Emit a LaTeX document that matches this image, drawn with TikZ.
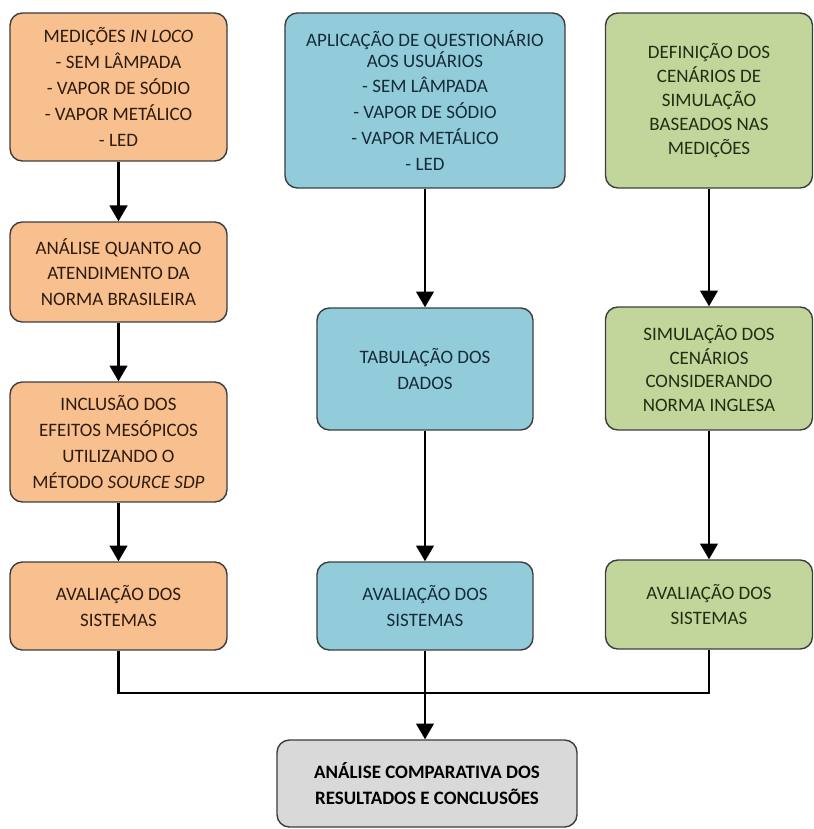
\documentclass[tikz,border=0pt]{standalone}
\usepackage{fontspec}
\setmainfont{Carlito}
\usetikzlibrary{arrows.meta}
\definecolor{borda}{HTML}{3C3C3C}
\definecolor{laranja}{HTML}{F8BF8F}
\definecolor{azul}{HTML}{92CCDB}
\definecolor{verde}{HTML}{C2D59B}
\definecolor{cinza}{HTML}{D9D9D9}
\definecolor{txtlaranja}{HTML}{2E1C0E}
\definecolor{txtazul}{HTML}{152C38}
\definecolor{txtverde}{HTML}{232D12}
\begin{document}
\begin{tikzpicture}[x=0.02cm,y=-0.02cm,
    caixa/.style={draw=borda,line width=0.8pt,rounded corners=7pt,align=center,inner sep=0pt,
      font=\fontsize{10.8}{14.7}\selectfont},
    etapa1/.style={caixa,fill=laranja,text=txtlaranja,minimum width=4.34cm},
    etapa2/.style={caixa,fill=azul,text=txtazul,minimum width=4.32cm},
    etapa3/.style={caixa,fill=verde,text=txtverde,minimum width=4.14cm},
    seta/.style={line width=1.5pt,-{Triangle[width=10pt,length=9pt]}}]
    \useasboundingbox (0,0) rectangle (814,829);
    % coluna 1
    \node[etapa1,minimum height=2.96cm] (med) at (118.5,87) {MEDIÇÕES \textit{IN LOCO}\\ - SEM LÂMPADA\\ - VAPOR DE SÓDIO\\ - VAPOR METÁLICO\\ - LED};
    \node[etapa1,minimum height=2cm] (nbr) at (118.5,272) {ANÁLISE QUANTO AO\\ ATENDIMENTO DA\\ NORMA BRASILEIRA};
    \node[etapa1,minimum height=2.4cm] (mes) at (118.5,442) {INCLUSÃO DOS\\ EFEITOS MESÓPICOS\\ UTILIZANDO O\\ MÉTODO \textit{SOURCE SDP}};
    \node[etapa1,minimum height=1.76cm] (av1) at (118.5,606) {AVALIAÇÃO DOS\\ SISTEMAS};
    % coluna 2
    \node[etapa2,minimum width=5.6cm,minimum height=3.5cm] (qst) at (425,100.5) {APLICAÇÃO DE QUESTIONÁRIO\\[-3pt] AOS USUÁRIOS\\ - SEM LÂMPADA\\ - VAPOR DE SÓDIO\\ - VAPOR METÁLICO\\ - LED};
    \node[etapa2,minimum height=2.44cm] (tab) at (425,369) {TABULAÇÃO DOS\\ DADOS};
    \node[etapa2,minimum height=1.76cm] (av2) at (425,606) {AVALIAÇÃO DOS\\ SISTEMAS};
    % coluna 3
    \node[etapa3,minimum height=3.5cm,font=\fontsize{10.8}{13.6}\selectfont] (cen) at (709,100.5) {DEFINIÇÃO DOS\\ CENÁRIOS DE\\ SIMULAÇÃO\\ BASEADOS NAS\\ MEDIÇÕES};
    \node[etapa3,minimum height=2.46cm,font=\fontsize{10.8}{13.6}\selectfont] (sim) at (709,368.5) {SIMULAÇÃO DOS\\ CENÁRIOS\\ CONSIDERANDO\\ NORMA INGLESA};
    \node[etapa3,minimum height=1.78cm] (av3) at (709,604.5) {AVALIAÇÃO DOS\\ SISTEMAS};
    % resultado
    \node[caixa,fill=cinza,text=black,minimum width=6cm,minimum height=1.74cm,font=\bfseries\fontsize{10.8}{14.7}\selectfont] (res) at (427,783.5) {ANÁLISE COMPARATIVA DOS\\ RESULTADOS E CONCLUSÕES};
    \draw[seta] (med) -- (nbr);
    \draw[seta] (nbr) -- (mes);
    \draw[seta] (mes) -- (av1);
    \draw[seta] (qst) -- (tab);
    \draw[seta] (tab) -- (av2);
    \draw[seta] (cen) -- (sim);
    \draw[seta] (sim) -- (av3);
    \coordinate (junta) at (425,693);
    \draw[line width=1.5pt] (av1.south) |- (junta) -| (av3.south);
    \draw[seta] (av2.south) -- (av2.south |- res.north);
\end{tikzpicture}
\end{document}
